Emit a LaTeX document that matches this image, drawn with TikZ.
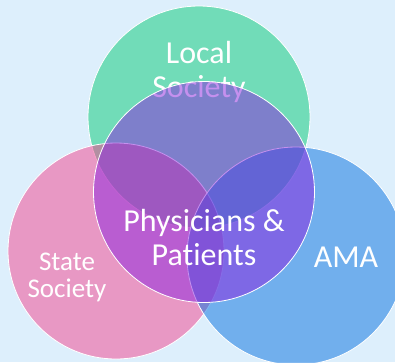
\documentclass[tikz,border=0pt]{standalone}
\usepackage{fontspec}
\setmainfont{Carlito}[Ligatures=NoCommon]

\definecolor{paleblue}{RGB}{221,239,252}
\definecolor{mint}{RGB}{7,203,118}
\definecolor{rose}{RGB}{243,67,142}
\definecolor{azure}{RGB}{7,113,224}
\definecolor{violet}{RGB}{140,35,223}

\begin{document}
\begin{tikzpicture}[x=1pt, y=-1pt,
    venn/.style={circle, draw=white, line width=0.8pt, fill opacity=0.5, inner sep=0pt, outer sep=0pt},
    caption/.style={text=white, align=center, anchor=base, font=\fontsize{32}{34}\selectfont}
]
    % Background
    \fill[paleblue] (0,0) rectangle (395,362);
    \useasboundingbox (0,0) rectangle (395,362);

    % Local society (base is the last line)
    \node[venn, fill=mint, minimum size=222pt] (local) at (199,117) {};
    \node[caption] (localtxt) at (199,97) {Local\\Society};

    % State society
    \node[venn, fill=rose, minimum size=216pt] (state) at (116,251) {};
    \node[caption, font=\fontsize{27}{27}\selectfont] (statetxt) at (67,297) {State\\Society};

    % AMA
    \node[venn, fill=azure, minimum size=218pt] (ama) at (296,256) {};
    \node[caption] (amatxt) at (346,267) {AMA};

    % Physicians and patients on top
    \node[venn, fill=violet, minimum size=221pt] (core) at (204,192) {};
    \node[caption] (coretxt) at (204,265) {Physicians \&\\Patients};
\end{tikzpicture}
\end{document}
